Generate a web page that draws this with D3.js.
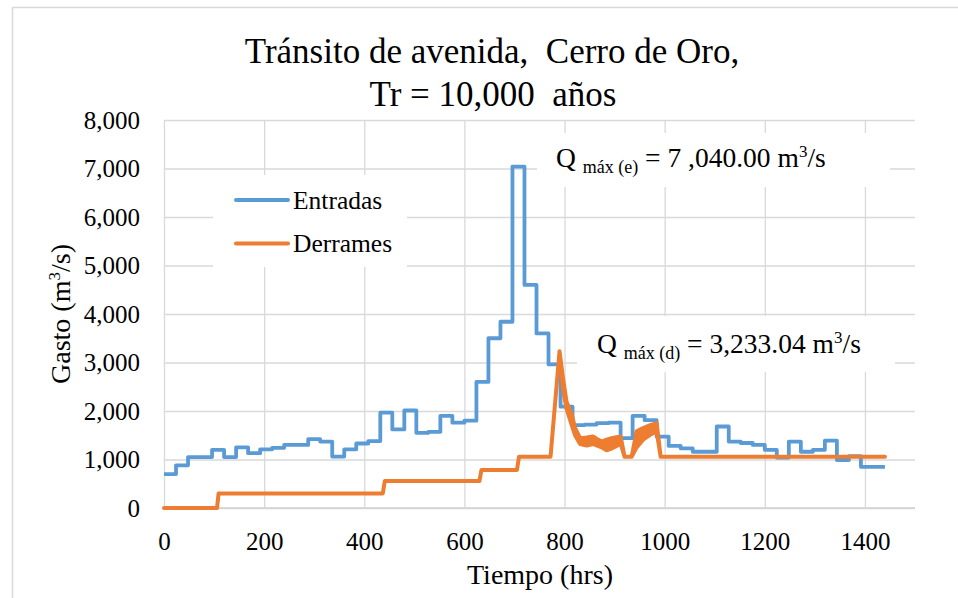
<!DOCTYPE html>
<html>
<head>
<meta charset="utf-8">
<script src="https://cdn.jsdelivr.net/npm/d3@7"></script>
</head>
<body style="margin:0">
<svg id="chart" width="958" height="598"></svg>
<script>
// Entradas: daily inflow (m3/s), one value per 24 h block, 0–1440 h
const entradas = [
  700, 880, 1050, 1050, 1200, 1050, 1250, 1130, 1210, 1240,
  1300, 1300, 1420, 1370, 1060, 1210, 1330, 1380, 1965, 1620,
  2010, 1550, 1570, 1900, 1760, 1800, 2600, 3500, 3840, 7040,
  4600, 3600, 2960, 2090, 1710, 1720, 1750, 1760, 1440, 1900,
  1810, 1470, 1280, 1230, 1160, 1160, 1680, 1370, 1340, 1300,
  1200, 1040, 1370, 1160, 1200, 1390, 990, 1070, 850, 850
];
const stepHours = 24;

// Derrames: spillway outflow, [hour, lower, upper] (oscillating band where lower < upper)
const derrames = [
  [0, 0, 0], [106, 0, 0], [109, 300, 300], [437, 300, 300], [441, 555, 555],
  [630, 555, 555], [634, 783, 783], [705, 783, 783], [709, 1055, 1055],
  [772, 1055, 1055], [790, 3233.04, 3233.04],
  [797, 2440, 2670], [804, 2050, 2190], [814, 1720, 1950], [821, 1500, 1650],
  [831, 1320, 1440], [844, 1290, 1455], [857, 1320, 1475], [864, 1290, 1430],
  [874, 1250, 1370], [884, 1190, 1410], [894, 1225, 1440], [904, 1280, 1460],
  [912, 1330, 1475], [920, 1055, 1055], [934, 1055, 1055],
  [944, 1250, 1580], [957, 1410, 1650], [971, 1510, 1710], [984, 1580, 1750],
  [992, 1055, 1055], [1440, 1055, 1055]
];

const xTicks = [0, 200, 400, 600, 800, 1000, 1200, 1400];
const yTicks = [0, 1000, 2000, 3000, 4000, 5000, 6000, 7000, 8000];
const seriesNames = ["Entradas", "Derrames"];
const seriesColors = ["#5B9BD5", "#ED7D31"];

const FONT = "Liberation Serif, Times New Roman, serif";
const svg = d3.select("#chart");
const plot = { left: 164, right: 915, top: 120, bottom: 508 };

const x = d3.scaleLinear().domain([0, 1500]).range([plot.left, plot.right]);
const y = d3.scaleLinear().domain([0, 8000]).range([plot.bottom, plot.top]);

// outer chart border
svg.append("rect")
  .attr("x", 12.5).attr("y", 7.5).attr("width", 1000).attr("height", 700)
  .attr("fill", "#fff").attr("stroke", "#d9d9d9").attr("stroke-width", 1.5);

// title
const title = svg.append("text").attr("text-anchor", "middle")
  .attr("font-family", FONT).attr("font-size", 35).attr("fill", "#000")
  .attr("xml:space", "preserve");
title.append("tspan").attr("x", 492).attr("y", 63).text("Tránsito de avenida,  Cerro de Oro,");
title.append("tspan").attr("x", 493).attr("y", 106).text("Tr = 10,000  años");

// y axis with horizontal gridlines
const yAxis = svg.append("g")
  .attr("transform", `translate(${plot.left},0)`)
  .call(d3.axisLeft(y).tickValues(yTicks).tickFormat(d3.format(","))
    .tickSize(-(plot.right - plot.left)).tickPadding(24));
yAxis.attr("font-family", FONT).attr("font-size", 25);
yAxis.select(".domain").remove();
yAxis.selectAll("line").attr("stroke", "#d9d9d9").attr("stroke-width", 1.3);
yAxis.selectAll("text").attr("fill", "#000");

// x axis with vertical gridlines
const xAxis = svg.append("g")
  .attr("transform", `translate(0,${plot.bottom})`)
  .call(d3.axisBottom(x).tickValues(xTicks).tickFormat(d3.format("d"))
    .tickSize(-(plot.bottom - plot.top)).tickPadding(24));
xAxis.attr("font-family", FONT).attr("font-size", 25);
xAxis.select(".domain").attr("stroke", "#d0d0d0").attr("stroke-width", 1.5)
  .attr("d", `M${plot.left},0H${plot.right}`);
xAxis.selectAll("line").attr("stroke", "#d9d9d9").attr("stroke-width", 1.3);
xAxis.selectAll("text").attr("fill", "#000");

// axis titles
svg.append("text")
  .attr("x", 540).attr("y", 584).attr("text-anchor", "middle")
  .attr("font-family", FONT).attr("font-size", 28).attr("fill", "#000")
  .text("Tiempo (hrs)");

const yTitle = svg.append("text")
  .attr("transform", "translate(70,314) rotate(-90)")
  .attr("text-anchor", "middle")
  .attr("font-family", FONT).attr("font-size", 28).attr("fill", "#000");
yTitle.append("tspan").text("Gasto (m");
yTitle.append("tspan").attr("dy", -10).attr("font-size", 17).text("3");
yTitle.append("tspan").attr("dy", 10).text("/s)");

// text boxes (white background over gridlines)
svg.append("rect").attr("x", 537).attr("y", 133).attr("width", 353).attr("height", 54).attr("fill", "#fff");
svg.append("rect").attr("x", 577).attr("y", 316).attr("width", 318).attr("height", 56).attr("fill", "#fff");
svg.append("rect").attr("x", 213).attr("y", 175).attr("width", 194).attr("height", 92).attr("fill", "#fff");

// Entradas step line
const entradasPts = entradas.map((v, i) => [i * stepHours, v]);
entradasPts.push([entradas.length * stepHours, entradas[entradas.length - 1]]);
svg.append("path")
  .datum(entradasPts)
  .attr("fill", "none")
  .attr("stroke", seriesColors[0])
  .attr("stroke-width", 3.8)
  .attr("stroke-linejoin", "round")
  .attr("d", d3.line().x(d => x(d[0])).y(d => y(d[1])).curve(d3.curveStepAfter));

// Derrames line / oscillation band
svg.append("path")
  .datum(derrames)
  .attr("fill", seriesColors[1])
  .attr("stroke", seriesColors[1])
  .attr("stroke-width", 4)
  .attr("stroke-linejoin", "round")
  .attr("d", d3.area().x(d => x(d[0])).y0(d => y(d[1])).y1(d => y(d[2])));

// legend
const legend = svg.append("g");
seriesNames.forEach((name, i) => {
  const ly = 200 + i * 43.5;
  legend.append("line")
    .attr("x1", 236).attr("x2", 288).attr("y1", ly).attr("y2", ly)
    .attr("stroke", seriesColors[i]).attr("stroke-width", 4).attr("stroke-linecap", "round");
  legend.append("text")
    .attr("x", 293).attr("y", ly + 8.5)
    .attr("font-family", FONT).attr("font-size", 25.5).attr("fill", "#000")
    .text(name);
});

// peak annotations
function annotate(xPos, yPos, sub, valueText) {
  const t = svg.append("text").attr("x", xPos).attr("y", yPos)
    .attr("font-family", FONT).attr("font-size", 27.5).attr("fill", "#000")
    .attr("xml:space", "preserve");
  t.append("tspan").text("Q ");
  t.append("tspan").attr("dy", 6).attr("font-size", 18).text(sub);
  t.append("tspan").attr("dy", -6).text(" = " + valueText + " m");
  t.append("tspan").attr("dy", -10).attr("font-size", 17).text("3");
  t.append("tspan").attr("dy", 10).text("/s");
}
const peakE = d3.max(entradas);
const peakD = d3.max(derrames, d => d[2]);
annotate(556, 167, "máx (e)", d3.format(",.2f")(peakE).replace(",", " ,"));
annotate(597, 353, "máx (d)", d3.format(",.2f")(peakD));
</script>
</body>
</html>
